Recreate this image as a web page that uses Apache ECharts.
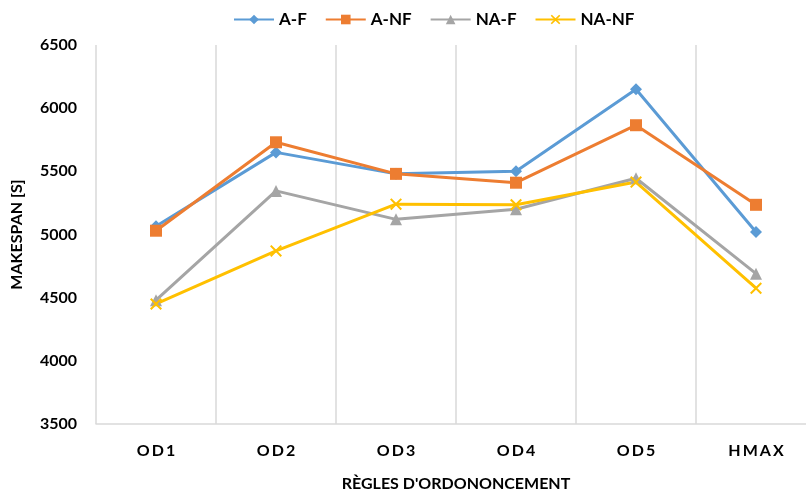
<!DOCTYPE html>
<html><head><meta charset="utf-8">
<script src="https://cdn.jsdelivr.net/npm/echarts@6/dist/echarts.min.js"></script>
<style>html,body{margin:0;padding:0;background:#fff}#c{width:806px;height:490px}</style>
</head><body><div id="c"></div>
<script>
var categories = ['OD1','OD2','OD3','OD4','OD5','HMAX'];
var seriesNames = ['A-F','A-NF','NA-F','NA-NF'];
var aF   = [5065, 5650, 5480, 5500, 6150, 5020];
var aNF  = [5030, 5730, 5480, 5410, 5865, 5235];
var naF  = [4480, 5345, 5120, 5200, 5445, 4690];
var naNF = [4450, 4870, 5240, 5235, 5415, 4575];
var yTicks = [3500, 4000, 4500, 5000, 5500, 6000, 6500];

var font = 'Lato, "Open Sans", sans-serif';
var xSym = 'path://M0,1.2L1.2,0L5,3.8L8.8,0L10,1.2L6.2,5L10,8.8L8.8,10L5,6.2L1.2,10L0,8.8L3.8,5Z';
var colors = ['#5B9BD5','#ED7D31','#A5A5A5','#FFC000'];
var symbols = ['diamond','rect','triangle',xSym];
var sizes = [12,12,12,12];
var data = [aF,aNF,naF,naNF];

var chart = echarts.init(document.getElementById('c'));
chart.setOption({
  animation:false,
  color: colors,
  legend:{
    top: 6, left:228, itemWidth:40, itemHeight:12, itemGap:18,
    textStyle:{fontFamily:font, fontWeight:'bold', fontSize:17, color:'#000'},
    data: seriesNames
  },
  grid:{left:96, right:-10, top:45, bottom:66, containLabel:false, outerBoundsMode:'none'},
  xAxis:{
    type:'category', data:categories, boundaryGap:true,
    name:"RÈGLES D'ORDONONCEMENT", nameLocation:'middle', nameGap:52,
    nameTextStyle:{fontFamily:font, fontWeight:'bold', fontSize:16, color:'#000'},
    axisLine:{lineStyle:{color:'#D9D9D9', width:1.5}},
    axisTick:{show:false},
    splitLine:{show:true, lineStyle:{color:'#D9D9D9', width:1.5}},
    axisLabel:{fontFamily:font, fontWeight:'bold', fontSize:16, color:'#000', margin:19,
      formatter:function(v){return v.split('').join('\u2009');}}
  },
  yAxis:{
    type:'value', min:yTicks[0], max:yTicks[yTicks.length-1], interval:500,
    name:'MAKESPAN [S]', nameLocation:'middle', nameGap:71, nameRotate:90,
    nameTextStyle:{fontFamily:font, fontWeight:'bold', fontSize:16, color:'#000'},
    axisLine:{show:false}, axisTick:{show:false}, splitLine:{show:false},
    axisLabel:{fontFamily:font, fontWeight:'bold', fontSize:16, color:'#000', margin:19,
      formatter:function(v){return String(v);}}
  },
  series: seriesNames.map(function(n,i){
    return {name:n, type:'line', data:data[i], symbol:symbols[i], symbolSize:sizes[i],
      showAllSymbol:true, lineStyle:{width:3, color:colors[i]}, itemStyle:{color:colors[i]}};
  })
});
</script></body></html>
